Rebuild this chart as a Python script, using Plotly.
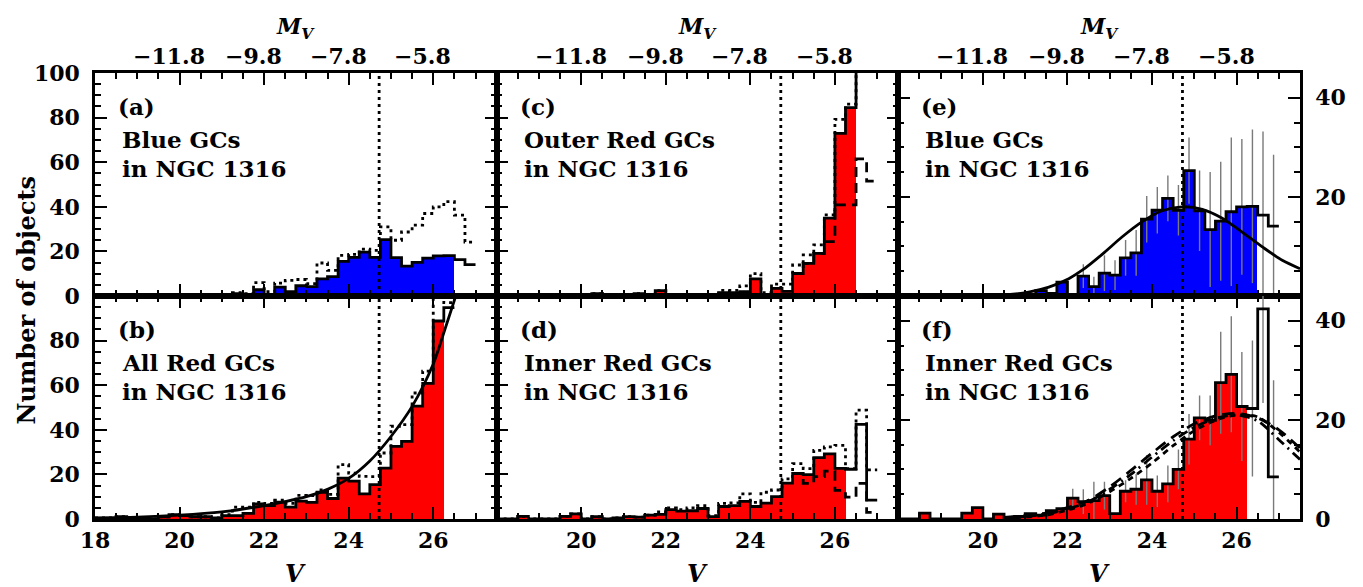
import plotly.graph_objects as go
from plotly.subplots import make_subplots

FONT = "DejaVu Serif"

# ---------------- data ----------------
V_BINS = [18.0, 18.25, 18.5, 18.75, 19.0, 19.25, 19.5, 19.75, 20.0, 20.25, 20.5, 20.75,
          21.0, 21.25, 21.5, 21.75, 22.0, 22.25, 22.5, 22.75, 23.0, 23.25, 23.5, 23.75,
          24.0, 24.25, 24.5, 24.75, 25.0, 25.25, 25.5, 25.75, 26.0, 26.25, 26.5, 26.75]
BIN_W = 0.25
V_RANGE = [18.0, 27.5]

BLUE_N = [0, 0, 0, 0, 0, 0, 0, 0, 0, 0, 0, 0,
          0, 1.1, 0.5, 2.8, 0.3, 4.0, 1.9, 4.6, 4.2, 7.7, 8.7, 15.5,
          17.3, 19.7, 17.3, 25.3, 17.2, 13.4, 15.1, 17.0, 18.0, 18.1, 16.3, 14.1]
BLUE_DOT = [0, 0, 0, 0, 0, 0, 0, 0, 0, 0, 0, 0,
            0, 1.5, 1.0, 6.0, 2.0, 5.8, 7.0, 7.4, 5.5, 14.8, 11.5, 18.2,
            18.7, 21.0, 20.5, 31.0, 25.0, 28.7, 31.8, 37.0, 40.0, 42.3, 36.3, 24.2]
BLUE_ERR = [0, 0, 0, 0, 0, 0, 0, 0, 0, 0, 0, 0,
            0, 0, 0, 0, 0, 2.4, 2.0, 3.6, 3.0, 3.6, 4.6, 4.7,
            4.7, 4.6, 5.1, 6.7, 8.1, 11.6, 12.0, 15.0, 13.7, 15.5, 16.9, 14.4]

ALLRED_N = [0.5, 0.5, 1.0, 0.5, 0.5, 0, 1.0, 2.0, 1.5, 1.0, 1.0, 0.5,
            1.5, 1.5, 2.5, 6.8, 6.0, 7.6, 5.3, 8.0, 7.5, 12.0, 9.2, 18.3,
            17.0, 11.3, 15.4, 22.8, 32.6, 34.8, 50.6, 60.8, 88.8, 94.8, None, None]
ALLRED_DOT = [0.5, 0.5, 1.0, 0.5, 0.5, 0, 1.0, 2.0, 1.5, 1.0, 1.0, 0.5,
              2.0, 5.3, 5.3, 7.5, 7.0, 8.5, 7.0, 10.6, 10.5, 13.0, 11.0, 24.4,
              20.6, 19.1, 19.0, 29.6, 41.6, 42.3, 56.5, 66.3, 130, 97.0, None, None]

OUTER_N = [0, 0, 0, 0, 0, 0, 0, 0, 0, 1.0, 0.5, 0,
           0, 1.0, 0, 2.4, 0, 0, 0.5, 0, 0.5, 1.5, 1.5, 2.0,
           7.7, 0, 3.4, 2.1, 10.1, 14.6, 19.1, 34.9, 72.9, 84.5, 130, None]
OUTER_DOT = [0, 0, 0, 0, 0, 0, 0, 0, 0, 1.0, 0.5, 0,
             0, 1.0, 0, 2.4, 0, 0, 0.5, 0, 0.5, 2.5, 2.5, 4.5,
             10.0, 1.5, 5.3, 5.3, 13.9, 18.4, 22.9, 36.4, 79.2, 86.0, 130, None]
OUTER_DASH = [None, None, None, None, None, None, None, None, None, None, None, None,
              None, None, None, None, None, None, None, None, None, None, None, None,
              None, None, None, None, 10.1, 14.6, 19.1, 24.4, 40.9, 40.9, 61.5, 51.5]

INNER_N = [0, 0, 1.2, 0, 0, 0, 1.2, 2.3, 0, 1.0, 0, 0.5,
           1.1, 0.8, 1.7, 2.1, 4.2, 3.5, 3.7, 4.7, 1.1, 5.6, 6.0, 7.9,
           5.6, 7.1, 10.0, 16.1, 20.4, 19.9, 27.5, 29.2, 22.7, 22.3, 42.4, 8.5]
INNER_DOT = [0, 0, 1.2, 0, 0, 0, 1.2, 2.3, 0, 1.0, 0, 0.5,
             1.1, 0.8, 1.7, 3.2, 5.0, 4.2, 5.0, 6.0, 1.5, 7.0, 7.2, 11.3,
             7.5, 12.0, 13.0, 18.0, 24.8, 22.6, 30.8, 32.3, 33.0, 22.6, 48.8, 22.0]
INNER_DASH = [None, None, None, None, None, None, None, None, None, None, None, None,
              None, None, None, None, None, None, None, None, None, None, None, None,
              None, None, None, None, 20.4, 16.0, 19.0, 21.5, 12.8, 9.8, 16.0, 3.0]
INNER_ERR = [0, 0, 0, 0, 0, 0, 0, 0, 0, 0, 0, 0,
             0, 0, 0, 0, 1.9, 2.5, 3.8, 2.8, 0, 2.2, 3.1, 5.0,
             3.2, 3.7, 4.0, 5.1, 4.5, 5.0, 10.3, 11.7, 11.0, 13.7, 19.0, 19.5]

# fitted curves
CURVE_B_V = [18.0, 19.0, 20.0, 21.0, 22.0, 22.5, 23.0, 23.5, 24.0, 24.5, 25.0, 25.5, 26.0, 26.25, 26.55]
CURVE_B_N = [0.3, 0.8, 1.7, 3.2, 6.0, 7.8, 10.0, 13.3, 18.2, 26.0, 37.0, 50.5, 69.5, 83.5, 101.0]

CURVE_E_V = [19.5, 20.3, 21.08, 21.56, 22.03, 22.35, 22.82, 23.29, 23.77, 24.24, 24.71,
             25.19, 25.66, 26.13, 26.61, 27.08, 27.5]
CURVE_E_N = [0.0, 0.1, 0.8, 1.8, 3.5, 5.2, 8.4, 11.9, 15.0, 17.2, 18.0,
             17.5, 15.7, 12.9, 9.9, 7.2, 5.5]

CURVE_F_V = [20.5, 21.5, 22.0, 22.5, 23.0, 23.5, 24.0, 24.5, 25.0, 25.5, 26.0, 26.5, 27.0, 27.5]
CURVE_F1_N = [0.3, 1.2, 2.3, 3.8, 6.5, 9.8, 13.3, 16.6, 19.2, 20.8, 21.3, 20.4, 18.0, 14.3]
CURVE_F2_N = [0.2, 1.0, 2.0, 3.5, 6.0, 9.0, 12.5, 15.8, 18.5, 20.3, 21.0, 19.8, 16.0, 12.0]
CURVE_F3_N = [0.1, 0.8, 1.8, 3.2, 5.5, 8.2, 11.3, 14.8, 17.8, 19.9, 21.0, 20.6, 17.5, 13.5]

V_LIMIT = 24.72
MV_TICKS = [-11.8, -9.8, -7.8, -5.8]
DIST_MOD = 31.55

X_TICKS_LEFT = [18, 20, 22, 24, 26]
X_TICKS_OTHER = [20, 22, 24, 26]

PANEL_TAGS = {(1, 1): "(a)", (2, 1): "(b)", (1, 2): "(c)", (2, 2): "(d)", (1, 3): "(e)", (2, 3): "(f)"}
PANEL_LINE1 = {(1, 1): "Blue GCs", (2, 1): "All Red GCs", (1, 2): "Outer Red GCs",
               (2, 2): "Inner Red GCs", (1, 3): "Blue GCs", (2, 3): "Inner Red GCs"}
PANEL_LINE2 = "in NGC 1316"

BLUE = "#0000ff"
RED = "#ff0000"
LW = 2.8

# ---------------- figure ----------------
fig = make_subplots(rows=2, cols=3, horizontal_spacing=0, vertical_spacing=0)


def ax_ids(r, c):
    i = (r - 1) * 3 + c
    s = "" if i == 1 else str(i)
    return "x" + s, "y" + s


def add_fill(vals, limit, color, r, c):
    xs = [v + BIN_W / 2 for v, n in zip(V_BINS, vals) if n is not None and v < limit]
    ys = [n for v, n in zip(V_BINS, vals) if n is not None and v < limit]
    fig.add_trace(go.Bar(x=xs, y=ys, width=BIN_W, marker=dict(color=color, line=dict(width=0)),
                         showlegend=False, hoverinfo="skip"), row=r, col=c)


def add_step(vals, dash, r, c):
    xs, ys = [], []
    for v, n in zip(V_BINS, vals):
        if n is None:
            continue
        xs.append(v)
        ys.append(n)
    xs.append(xs[-1] + BIN_W)
    ys.append(ys[-1])
    fig.add_trace(go.Scatter(x=xs, y=ys, mode="lines",
                             line=dict(shape="hv", color="black", width=LW, dash=dash),
                             showlegend=False, hoverinfo="skip"), row=r, col=c)


def add_err(vals, errs, r, c):
    xs = [v + BIN_W / 2 for v, n, e in zip(V_BINS, vals, errs) if e > 0]
    ys = [n for v, n, e in zip(V_BINS, vals, errs) if e > 0]
    es = [e for e in errs if e > 0]
    fig.add_trace(go.Scatter(x=xs, y=ys, mode="markers",
                             marker=dict(size=1, color="rgba(0,0,0,0)"),
                             error_y=dict(type="data", array=es, symmetric=True,
                                          color="#7a7a7a", thickness=1.4, width=0),
                             showlegend=False, hoverinfo="skip"), row=r, col=c)


def add_curve(xv, yv, dash, r, c):
    fig.add_trace(go.Scatter(x=xv, y=yv, mode="lines",
                             line=dict(shape="spline", smoothing=0.8, color="black", width=LW, dash=dash),
                             showlegend=False, hoverinfo="skip"), row=r, col=c)


DOT = "3px,4px"

# (a) blue
add_fill(BLUE_N, 26.5, BLUE, 1, 1)
add_step(BLUE_DOT, DOT, 1, 1)
add_step(BLUE_N, "solid", 1, 1)
# (b) all red
add_fill(ALLRED_N, 26.25, RED, 2, 1)
add_step(ALLRED_DOT, DOT, 2, 1)
add_step(ALLRED_N, "solid", 2, 1)
add_curve(CURVE_B_V, CURVE_B_N, "solid", 2, 1)
# (c) outer red
add_fill(OUTER_N, 26.5, RED, 1, 2)
add_step(OUTER_DOT, DOT, 1, 2)
add_step(OUTER_DASH, "10px,6px", 1, 2)
add_step(OUTER_N, "solid", 1, 2)
# (d) inner red
add_fill(INNER_N, 26.25, RED, 2, 2)
add_step(INNER_DOT, DOT, 2, 2)
add_step(INNER_DASH, "10px,6px", 2, 2)
add_step(INNER_N, "solid", 2, 2)
# (e) blue with errors and fit
add_fill(BLUE_N, 26.5, BLUE, 1, 3)
add_err(BLUE_N, BLUE_ERR, 1, 3)
add_step(BLUE_N, "solid", 1, 3)
add_curve(CURVE_E_V, CURVE_E_N, "solid", 1, 3)
# (f) inner red with errors and fits
add_fill(INNER_N, 26.25, RED, 2, 3)
add_err(INNER_N, INNER_ERR, 2, 3)
add_step(INNER_N, "solid", 2, 3)
add_curve(CURVE_F_V, CURVE_F1_N, "12px,7px", 2, 3)
add_curve(CURVE_F_V, CURVE_F2_N, "10px,5px,2px,5px", 2, 3)
add_curve(CURVE_F_V, CURVE_F3_N, "6px,5px", 2, 3)

for r in (1, 2):
    for c in (1, 2, 3):
        fig.add_vline(x=V_LIMIT, line=dict(color="black", width=LW, dash=DOT), row=r, col=c)

tickfont = dict(family=FONT, size=22, color="black", weight="bold")
for r in (1, 2):
    for c in (1, 2, 3):
        fig.update_xaxes(range=V_RANGE, showline=True, linewidth=2.5, linecolor="black",
                         mirror="ticks", ticks="inside", ticklen=12, tickwidth=2, tickcolor="black",
                         tickmode="array", tickvals=X_TICKS_LEFT if c == 1 else X_TICKS_OTHER,
                         showticklabels=(r == 2), tickfont=tickfont, showgrid=False, zeroline=False,
                         minor=dict(ticks="inside", dtick=0.5, tick0=18, ticklen=6, tickwidth=2,
                                    tickcolor="black", showgrid=False),
                         row=r, col=c)
        if c < 3:
            yr = [0, 100]
            tv = [0, 20, 40, 60, 80, 100] if r == 1 else [0, 20, 40, 60, 80]
            side = "left"
        else:
            yr = [0, 45]
            tv = [20, 40] if r == 1 else [0, 20, 40]
            side = "right"
        fig.update_yaxes(range=yr, showline=True, linewidth=2.5, linecolor="black",
                         mirror="ticks", ticks="inside", ticklen=12, tickwidth=2, tickcolor="black",
                         tickmode="array", tickvals=tv, side=side,
                         showticklabels=(c != 2), tickfont=tickfont, showgrid=False, zeroline=False,
                         ticklabelstandoff=8,
                         minor=dict(ticks="inside", dtick=5, tick0=0, ticklen=6, tickwidth=2,
                                    tickcolor="black", showgrid=False),
                         row=r, col=c)

ann = []
txtfont = dict(family=FONT, size=23, color="black", weight="bold")
for (r, c), tag in PANEL_TAGS.items():
    xa, ya = ax_ids(r, c)
    ann.append(dict(x=0.052, y=0.85, xref=xa + " domain", yref=ya + " domain", text=tag,
                    showarrow=False, xanchor="left", yanchor="middle", font=txtfont))
    ann.append(dict(x=0.062, y=0.70, xref=xa + " domain", yref=ya + " domain", text=PANEL_LINE1[(r, c)],
                    showarrow=False, xanchor="left", yanchor="middle", font=txtfont))
    ann.append(dict(x=0.062, y=0.57, xref=xa + " domain", yref=ya + " domain", text=PANEL_LINE2,
                    showarrow=False, xanchor="left", yanchor="middle", font=txtfont))

for c in (1, 2, 3):
    xa, ya = ax_ids(1, c)
    for mv in MV_TICKS:
        ann.append(dict(x=mv + DIST_MOD, y=1.038, xref=xa, yref="paper",
                        text="\u2212" + f"{abs(mv):.1f}", showarrow=False,
                        xanchor="center", yanchor="middle", font=tickfont))
    ann.append(dict(x=0.5, y=1.10, xref=xa + " domain", yref="paper",
                    text="<i>M<sub>V</sub></i>", showarrow=False,
                    xanchor="center", yanchor="middle",
                    font=dict(family=FONT, size=22, color="black", weight="bold")))
    xb, yb = ax_ids(2, c)
    ann.append(dict(x=0.5, y=-0.122, xref=xb + " domain", yref="paper",
                    text="<i>V</i>", showarrow=False,
                    xanchor="center", yanchor="middle",
                    font=dict(family=FONT, size=24, color="black", weight="bold")))

ann.append(dict(x=-0.0565, y=0.49, xref="paper", yref="paper", text="Number of objects",
                textangle=-90, showarrow=False, xanchor="center", yanchor="middle",
                font=dict(family=FONT, size=24, color="black", weight="bold")))

# the page adds an 8 px body margin, so the figure is sized and offset to compensate
fig.update_layout(width=1355, height=579, margin=dict(l=87, r=63, t=65, b=68),
                  plot_bgcolor="white", paper_bgcolor="white", barmode="overlay", bargap=0,
                  showlegend=False, font=dict(family=FONT, size=22, color="black"),
                  annotations=ann)

fig.write_html("out.html")
